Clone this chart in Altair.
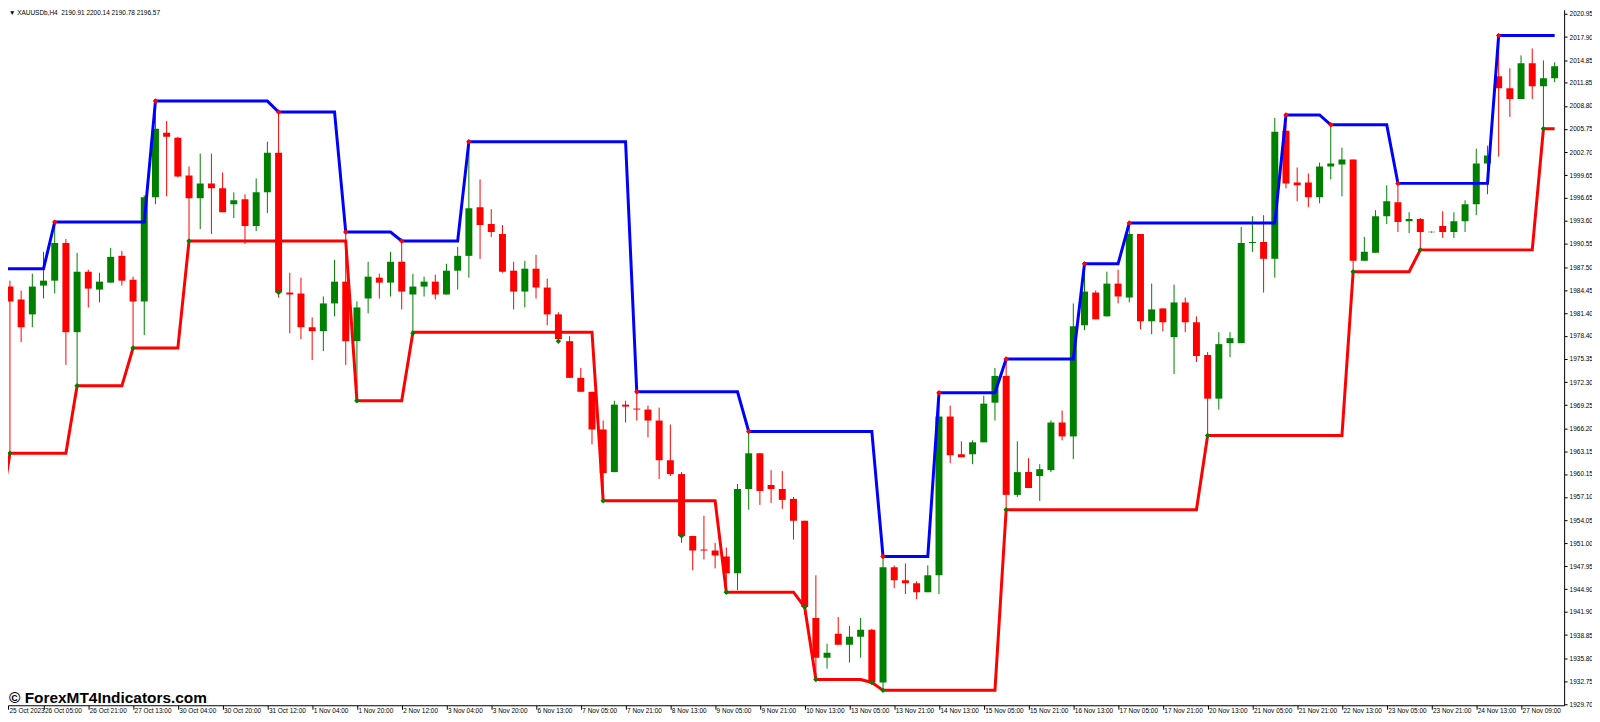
import altair as alt
import pandas as pd

# ---------------- data ----------------
opens = [1969.44,1984.92,1983.21,1981.24,1985.05,1985.70,1990.69,1978.89,1986.88,1984.52,
         1985.44,1988.98,1985.83,1982.95,1996.72,2005.25,2004.59,1999.61,1996.59,1998.56,
         1997.90,1995.80,1996.46,1992.92,1997.38,2002.62,1984.13,1984.00,1979.54,1979.02,
         1982.69,1985.57,1977.70,1983.34,1986.10,1985.44,1988.20,1983.87,1984.92,1985.57,
         1983.87,1987.02,1988.98,1995.41,1993.18,1991.87,1987.02,1984.26,1987.28,1984.79,
         1981.24,1977.70,1972.85,1971.01,1966.03,1960.39,1969.31,1968.79,1968.66,1967.21,
         1961.96,1960.13,1951.96,1950.16,1950.03,1949.24,1947.01,1958.16,1962.88,1958.69,
         1958.16,1956.85,1953.96,1941.11,1935.86,1939.01,1937.57,1938.62,1939.54,1932.58,
         1947.80,1946.09,1945.70,1944.52,1946.75,1967.74,1962.75,1962.75,1964.33,1969.57,
         1973.11,1957.38,1960.39,1959.87,1960.65,1966.95,1965.11,1979.80,1984.13,1980.98,
         1985.31,1983.47,1991.87,1980.33,1982.03,1978.23,1982.82,1980.20,1975.87,1970.10,
         1977.44,1977.44,1990.69,1990.82,1988.59,2005.51,1998.69,1998.69,1996.72,2000.79,
         2001.05,2001.71,1988.33,1989.38,1994.23,1996.07,1993.57,1993.84,1992.10,1992.92,
         1992.13,1993.57,1995.80,2001.18,2012.72,2011.15,2009.71,2014.43,2011.41,2012.46]
highs = [1985.83,1985.70,1984.39,1986.62,1989.51,1993.44,1991.21,1989.38,1987.15,1986.75,
         1990.03,1989.64,1986.23,1996.98,2009.44,2006.82,2004.72,2000.79,2002.49,2002.49,
         2000.00,1997.38,1997.12,1999.21,2004.07,2008.00,1986.75,1986.10,1980.85,1983.61,
         1988.46,1992.13,1982.95,1988.20,1986.62,1989.51,1990.95,1986.62,1986.23,1986.49,
         1987.93,1990.16,2004.07,1999.08,1995.15,1993.05,1988.20,1988.33,1989.12,1985.97,
         1981.51,1978.36,1974.16,1971.01,1967.21,1969.83,1969.83,1971.01,1969.18,1968.92,
         1966.69,1960.39,1951.96,1954.62,1951.04,1950.42,1958.82,1965.77,1962.88,1960.65,
         1960.52,1957.11,1953.96,1946.75,1937.70,1941.24,1940.06,1941.11,1939.67,1949.24,
         1948.06,1948.32,1945.96,1948.06,1970.88,1969.18,1964.46,1964.59,1970.49,1974.16,
         1975.34,1964.46,1962.23,1961.44,1967.21,1968.52,1982.69,1987.93,1984.39,1986.88,
         1987.15,1993.31,1991.87,1985.31,1982.03,1985.18,1983.47,1980.98,1976.26,1978.89,
         1978.89,1992.79,1994.23,1994.36,2007.21,2007.61,2000.66,1999.87,2001.31,2006.30,
         2003.28,2001.71,1991.48,1995.02,1998.30,1998.56,1994.75,1993.97,1992.20,1994.89,
         1994.75,1996.33,2003.15,2003.54,2018.10,2013.77,2015.48,2016.40,2014.82,2014.56]
lows = [1969.05,1962.88,1977.57,1979.54,1983.34,1984.00,1974.56,1971.80,1982.16,1982.82,
        1985.44,1985.05,1976.79,1978.49,1995.80,1996.85,1999.34,1990.95,1992.52,1991.87,
        1994.75,1993.97,1990.56,1992.26,1994.62,1983.47,1978.75,1977.97,1975.21,1976.39,
        1980.98,1974.56,1969.83,1981.38,1983.34,1983.61,1981.90,1978.75,1983.61,1983.21,
        1983.87,1984.52,1986.10,1988.59,1991.48,1986.75,1981.90,1982.16,1983.34,1979.80,
        1977.70,1972.85,1971.01,1964.06,1956.59,1960.39,1966.95,1967.21,1964.98,1959.47,
        1959.87,1951.04,1947.41,1948.84,1947.67,1944.52,1944.78,1955.41,1956.06,1956.32,
        1955.54,1951.47,1941.50,1932.98,1934.42,1937.57,1935.21,1935.86,1932.58,1931.54,
        1945.04,1944.26,1943.60,1944.52,1944.26,1961.57,1962.36,1961.44,1964.33,1967.21,
        1955.41,1957.11,1958.29,1956.59,1960.39,1964.59,1962.10,1979.15,1980.59,1980.98,
        1982.69,1982.82,1979.28,1978.62,1979.02,1973.37,1978.89,1974.95,1965.24,1968.66,
        1975.60,1977.44,1989.51,1984.13,1986.10,1997.90,1996.20,1995.41,1995.93,1999.08,
        1996.85,1986.88,1988.33,1989.38,1993.18,1992.13,1992.00,1989.77,1992.05,1991.34,
        1991.34,1992.13,1994.36,1997.12,2002.10,2007.35,2009.71,2009.71,2005.77,2011.94]
closes = [1985.05,1982.95,1979.54,1984.92,1985.70,1990.69,1978.89,1986.88,1984.65,1985.57,
          1988.85,1985.70,1982.95,1996.72,2005.77,2004.72,1999.48,1996.59,1998.56,1997.90,
          1994.75,1996.33,1992.92,1997.38,2002.62,1984.13,1983.87,1979.54,1979.02,1982.69,
          1985.57,1977.70,1982.16,1986.23,1985.44,1988.20,1984.26,1984.92,1985.57,1983.87,
          1987.02,1988.98,1995.28,1993.05,1992.13,1986.88,1984.26,1987.28,1984.79,1981.24,
          1977.97,1972.85,1971.01,1966.03,1960.26,1969.31,1969.05,1968.66,1967.21,1961.96,
          1960.13,1951.96,1950.03,1950.03,1949.37,1947.01,1958.16,1962.88,1957.90,1958.16,
          1956.72,1953.96,1942.55,1935.86,1936.52,1937.57,1938.62,1939.54,1932.58,1947.80,
          1946.09,1945.70,1944.52,1946.75,1967.74,1962.62,1962.36,1964.33,1969.44,1973.11,
          1957.38,1960.39,1958.29,1960.78,1966.95,1965.11,1979.67,1984.26,1980.59,1985.31,
          1983.61,1991.87,1980.33,1981.90,1980.20,1982.82,1980.20,1975.74,1970.10,1977.31,
          1978.10,1990.69,1990.82,1988.59,2005.38,1998.56,1998.30,1996.72,2000.79,2001.18,
          2001.71,1988.33,1989.51,1994.23,1996.20,1993.44,1993.84,1992.13,1992.16,1992.13,
          1993.57,1995.80,2001.18,2002.23,2011.15,2009.71,2014.43,2011.41,2012.46,2014.03]

# upper (blue) and lower (red) channel lines: bar where a new level starts, and the level
upper_start = [0, 5, 14, 25, 31, 36, 42, 57, 67, 79, 84, 90, 97, 101, 115, 119, 125, 134]
upper_level = [1987.28, 1993.44, 2009.44, 2008.00, 1992.13, 1990.95, 2004.07, 1971.01, 1965.77,
               1949.24, 1970.88, 1975.34, 1987.93, 1993.31, 2007.61, 2006.30, 1998.56, 2018.10]
lower_start = [0, 1, 7, 12, 17, 32, 37, 54, 65, 72, 73, 78, 79, 90, 108, 121, 127, 138]
lower_level = [1953.44, 1962.88, 1971.80, 1976.79, 1990.95, 1969.83, 1978.89, 1956.59, 1944.52,
               1942.55, 1932.98, 1932.58, 1931.54, 1955.41, 1965.24, 1986.88, 1989.77, 2005.77]

# fractal markers
hi_frac_bar = [5, 14, 25, 31, 36, 42, 57, 67, 79, 84, 90, 97, 101, 115, 119, 125, 134]
hi_frac_price = [1993.44, 2009.44, 2008.00, 1992.13, 1990.95, 2004.07, 1971.01, 1965.77, 1949.24,
                 1970.88, 1975.34, 1987.93, 1993.31, 2007.61, 2006.30, 1998.56, 2018.10]
lo_frac_bar = [1, 7, 12, 17, 25, 32, 37, 50, 54, 61, 65, 72, 73, 78, 79, 90, 108, 121, 127, 138]
lo_frac_price = [1962.88, 1971.80, 1976.79, 1990.95, 1984.13, 1969.83, 1978.75, 1977.70, 1956.59,
                 1951.96, 1944.52, 1942.55, 1932.98, 1932.58, 1931.54, 1955.41, 1965.24, 1986.88,
                 1989.77, 2005.77]

x_labels = ["25 Oct 2023", "26 Oct 05:00", "26 Oct 21:00", "27 Oct 13:00", "30 Oct 04:00",
            "30 Oct 20:00", "31 Oct 12:00", "1 Nov 04:00", "1 Nov 20:00", "2 Nov 12:00",
            "3 Nov 04:00", "3 Nov 20:00", "6 Nov 13:00", "7 Nov 05:00", "7 Nov 21:00",
            "8 Nov 13:00", "9 Nov 05:00", "9 Nov 21:00", "10 Nov 13:00", "13 Nov 05:00",
            "13 Nov 21:00", "14 Nov 13:00", "15 Nov 05:00", "15 Nov 21:00", "16 Nov 13:00",
            "17 Nov 05:00", "17 Nov 21:00", "20 Nov 13:00", "21 Nov 05:00", "21 Nov 21:00",
            "22 Nov 13:00", "23 Nov 05:00", "23 Nov 21:00", "24 Nov 13:00", "27 Nov 09:00"]
# label positions along the bar axis (first label sits at the left edge of the window)
x_label_pos = [0.83] + list(range(4, 4 * len(x_labels), 4))

y_ticks = [2020.95, 2017.90, 2014.85, 2011.85, 2008.80, 2005.75, 2002.70, 1999.65, 1996.65,
           1993.60, 1990.55, 1987.50, 1984.45, 1981.40, 1978.40, 1975.35, 1972.30, 1969.25,
           1966.20, 1963.15, 1960.15, 1957.10, 1954.05, 1951.00, 1947.95, 1944.90, 1941.90,
           1938.85, 1935.80, 1932.75, 1929.70]

header_text = "\u25bc XAUUSDb,H4\u00a0\u00a02190.91 2200.14 2190.78 2196.57"
watermark_text = "\u00a9 ForexMT4Indicators.com"

# ---------------- tables ----------------
n = len(opens)
bars = pd.DataFrame({"i": range(n), "open": opens, "high": highs, "low": lows, "close": closes})
bars["dir"] = ["up" if c >= o else "down" for o, c in zip(opens, closes)]


def expand(starts, levels):
    out, j = [], 0
    for i in range(n):
        while j + 1 < len(starts) and starts[j + 1] <= i:
            j += 1
        out.append(levels[j])
    return out


lines = pd.DataFrame({"i": range(n), "upper": expand(upper_start, upper_level),
                      "lower": expand(lower_start, lower_level)})
hi_df = pd.DataFrame({"i": hi_frac_bar, "price": hi_frac_price})
lo_df = pd.DataFrame({"i": lo_frac_bar, "price": lo_frac_price})

# ---------------- scales / axes ----------------
FONT = "Liberation Sans"
label_expr = "[" + ",".join("'%s'" % s for s in x_labels) + "][round(datum.value/4)]"
x_axis = alt.Axis(values=x_label_pos, labelExpr=label_expr, orient="bottom", grid=False,
                  tickSize=4, tickColor="#000000", domainColor="#000000", labelAlign="left",
                  labelBaseline="top", labelOffset=1, labelPadding=-2, labelFont=FONT,
                  labelFontSize=6.5, labelColor="#000000", labelOverlap=False, labelFlush=False,
                  labelBound=False, title=None)
y_axis = alt.Axis(values=y_ticks, format=".2f", orient="right", grid=False, tickSize=3,
                  tickColor="#000000", domainColor="#000000", labelPadding=2, labelFont=FONT,
                  labelFontSize=6.5, labelColor="#000000", labelOverlap=False, labelFlush=False,
                  title=None)
x_scale = alt.Scale(domain=[0.827, 139.85], nice=False, zero=False, padding=0)
y_scale = alt.Scale(domain=[1929.57, 2021.51], nice=False, zero=False, padding=0)


def X():
    return alt.X("i:Q", scale=x_scale, axis=x_axis)


def Y(field):
    return alt.Y(field, type="quantitative", scale=y_scale, axis=y_axis)


color = alt.Color("dir:N", scale=alt.Scale(domain=["up", "down"], range=["#008000", "#FF0000"]),
                  legend=None)

wicks = alt.Chart(bars).mark_rule(strokeWidth=1, clip=True).encode(
    x=X(), y=Y("low"), y2="high", color=color)
bodies = alt.Chart(bars).mark_bar(size=7, clip=True).encode(
    x=X(), y=Y("open"), y2="close", color=color)
upper_line = alt.Chart(lines).mark_line(color="#0000FF", strokeWidth=3, clip=True).encode(
    x=X(), y=Y("upper"))
lower_line = alt.Chart(lines).mark_line(color="#FF0000", strokeWidth=3, clip=True).encode(
    x=X(), y=Y("lower"))
hi_dots = alt.Chart(hi_df).mark_point(shape="diamond", filled=True, size=30, color="#FF0000",
                                      opacity=1).encode(x=X(), y=Y("price"))
lo_dots = alt.Chart(lo_df).mark_point(shape="diamond", filled=True, size=30, color="#008000",
                                      opacity=1).encode(x=X(), y=Y("price"))

header = alt.Chart(pd.DataFrame({"t": [header_text]})).mark_text(
    align="left", baseline="top", font=FONT, fontSize=6.5, color="#000000"
).encode(x=alt.value(1), y=alt.value(0), text="t:N")
watermark = alt.Chart(pd.DataFrame({"t": [watermark_text]})).mark_text(
    align="left", baseline="alphabetic", font=FONT, fontSize=15.5, fontWeight="bold",
    color="#000000"
).encode(x=alt.value(1), y=alt.value(697), text="t:N")

chart = alt.layer(wicks, bodies, lower_line, upper_line, hi_dots, lo_dots, header, watermark).properties(
    width=1564, height=699,
    autosize=alt.AutoSizeParams(type="none"),
    padding={"left": 0, "top": 0, "right": 28, "bottom": 7},
    background="#FFFFFF",
).configure_view(stroke=None)

chart.save("out.html", embed_options={"renderer": "svg", "actions": False})
